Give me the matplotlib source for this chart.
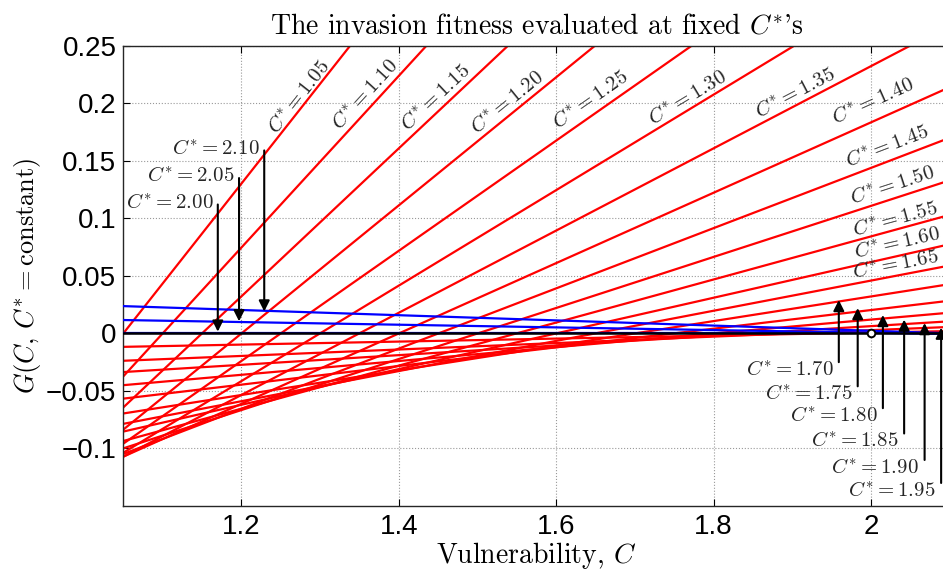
import numpy as np
import matplotlib.pyplot as plt

plt.rcParams['mathtext.fontset'] = 'cm'
plt.rcParams['axes.unicode_minus'] = True

# ---- data ----
# vulnerability C at the left and right edge of the plot
c_edges = [1.05, 2.10]

# red family: resident C* below 2, G(C, C*) at C = 1.05 and C = 2.10
c_star_red = [1.05, 1.10, 1.15, 1.20, 1.25, 1.30, 1.35, 1.40, 1.45, 1.50,
              1.55, 1.60, 1.65, 1.70, 1.75, 1.80, 1.85, 1.90, 1.95]
g_red_left = [0.0, -0.0373, -0.0643, -0.0836, -0.0958, -0.1037, -0.1071, -0.1071,
              -0.1048, -0.0999, -0.0935, -0.0853, -0.0786, -0.0696, -0.0567,
              -0.0450, -0.0336, -0.0238, -0.0117]
g_red_right = [0.911, 0.746, 0.611, 0.501, 0.407, 0.332, 0.268, 0.214, 0.170,
               0.133, 0.103, 0.0775, 0.059, 0.0428, 0.0284, 0.018, 0.0105,
               0.0056, 0.002]

# blue family: resident C* at / above 2
c_star_blue = [2.00, 2.05, 2.10]
g_blue_left = [0.0, 0.0116, 0.0237]
g_blue_right = [0.0, -0.0006, 0.0]

zero_level = 0.0
singular_c = 2.0

# labels written along the steep red lines (C*, position in data units)
inline_cstar = [1.05, 1.10, 1.15, 1.20, 1.25, 1.30, 1.35, 1.40, 1.45, 1.50, 1.55, 1.60, 1.65]
inline_c = [1.273, 1.357, 1.446, 1.537, 1.643, 1.766, 1.903, 2.002, 2.020, 2.027, 2.030, 2.033, 2.031]
inline_g = [0.206, 0.208, 0.2055, 0.201, 0.203, 0.2055, 0.209, 0.202, 0.163, 0.129, 0.100, 0.079, 0.060]

# arrows pointing down onto the blue lines
down_cstar = [2.00, 2.05, 2.10]
down_c = [1.170, 1.197, 1.229]
down_tail = [0.112, 0.135, 0.159]
down_tip = [0.0015, 0.0105, 0.019]

# arrows pointing up onto the flat red lines
up_cstar = [1.70, 1.75, 1.80, 1.85, 1.90, 1.95]
up_c = [1.959, 1.983, 2.015, 2.042, 2.068, 2.089]
up_tail = [-0.025, -0.046, -0.065, -0.087, -0.110, -0.130]
up_tip = [0.029, 0.022, 0.016, 0.012, 0.009, 0.005]

xticks = [1.2, 1.4, 1.6, 1.8, 2.0]
xticklabels = ['1.2', '1.4', '1.6', '1.8', '2']
yticks = [-0.1, -0.05, 0, 0.05, 0.1, 0.15, 0.2, 0.25]
yticklabels = ['\u22120.1', '\u22120.05', '0', '0.05', '0.1', '0.15', '0.2', '0.25']

# ---- figure ----
fig = plt.figure(figsize=(9.43, 5.72), dpi=100)
ax = fig.add_axes([0.1308, 0.1154, 0.8764, 0.8047])
ax.set_xlim(1.05, 2.1)
ax.set_ylim(-0.15, 0.25)

for gl, gr in zip(g_red_left, g_red_right):
    ax.plot(c_edges, [gl, gr], color='red', lw=1.6, zorder=2)
for gl, gr in zip(g_blue_left, g_blue_right):
    ax.plot(c_edges, [gl, gr], color='blue', lw=1.6, zorder=3)
ax.axhline(zero_level, color='k', lw=1.8, zorder=4)
ax.plot([singular_c], [zero_level], 'o', mfc='white', mec='k', ms=5.5, mew=1.4, zorder=6)

# grid, ticks, frame (MATLAB look)
ax.set_xticks(xticks)
ax.set_xticklabels(xticklabels)
ax.set_yticks(yticks)
ax.set_yticklabels(yticklabels)
ax.grid(True, linestyle=':', color='0.6', lw=0.8)
ax.tick_params(direction='in', length=5, width=0.8, top=True, right=True,
               labelsize=20, pad=5)
ax.tick_params(axis='x', pad=6)
for lab in ax.get_xticklabels() + ax.get_yticklabels():
    lab.set_fontfamily('Liberation Sans')
for sp in ax.spines.values():
    sp.set_linewidth(1.0)
    sp.set_color('0.15')


def screen_angle(gl, gr):
    p0 = ax.transData.transform((c_edges[0], gl))
    p1 = ax.transData.transform((c_edges[1], gr))
    return np.degrees(np.arctan2(p1[1] - p0[1], p1[0] - p0[0]))


for cs, cx, gy in zip(inline_cstar, inline_c, inline_g):
    i = c_star_red.index(cs)
    ang = screen_angle(g_red_left[i], g_red_right[i])
    ax.text(cx, gy, r'$C^{*}=%.2f$' % cs, fontsize=15, color='0.15',
            rotation=ang, rotation_mode='anchor', ha='center', va='center', zorder=7)

arrow_style = dict(arrowstyle='-|>', color='k', lw=1.5, mutation_scale=16,
                   shrinkA=0, shrinkB=0)
for cs, cx, t0, t1 in zip(down_cstar, down_c, down_tail, down_tip):
    ax.annotate('', xy=(cx, t1), xytext=(cx, t0), arrowprops=arrow_style, zorder=8)
    ax.annotate(r'$C^{*}=%.2f$' % cs, xy=(cx, t0), xytext=(-3, 2),
                textcoords='offset points', ha='right', va='center',
                fontsize=15, color='0.15')
for cs, cx, t0, t1 in zip(up_cstar, up_c, up_tail, up_tip):
    ax.annotate('', xy=(cx, t1), xytext=(cx, t0), arrowprops=arrow_style, zorder=8)
    ax.annotate(r'$C^{*}=%.2f$' % cs, xy=(cx, t0), xytext=(-4, -5),
                textcoords='offset points', ha='right', va='center',
                fontsize=15, color='0.15')

ax.set_title("The invasion fitness evaluated at fixed $C^{*}$'s",
             fontfamily='cmr10', fontsize=20, pad=9)
ax.set_xlabel('Vulnerability, $C$', fontfamily='cmr10', fontsize=20, labelpad=0)
ax.set_ylabel(r'$G(C,\,C^{*}=\mathrm{constant})$', fontsize=19)
ax.yaxis.set_label_coords(-0.097, 0.5)

fig.savefig('out.png', dpi=100)
